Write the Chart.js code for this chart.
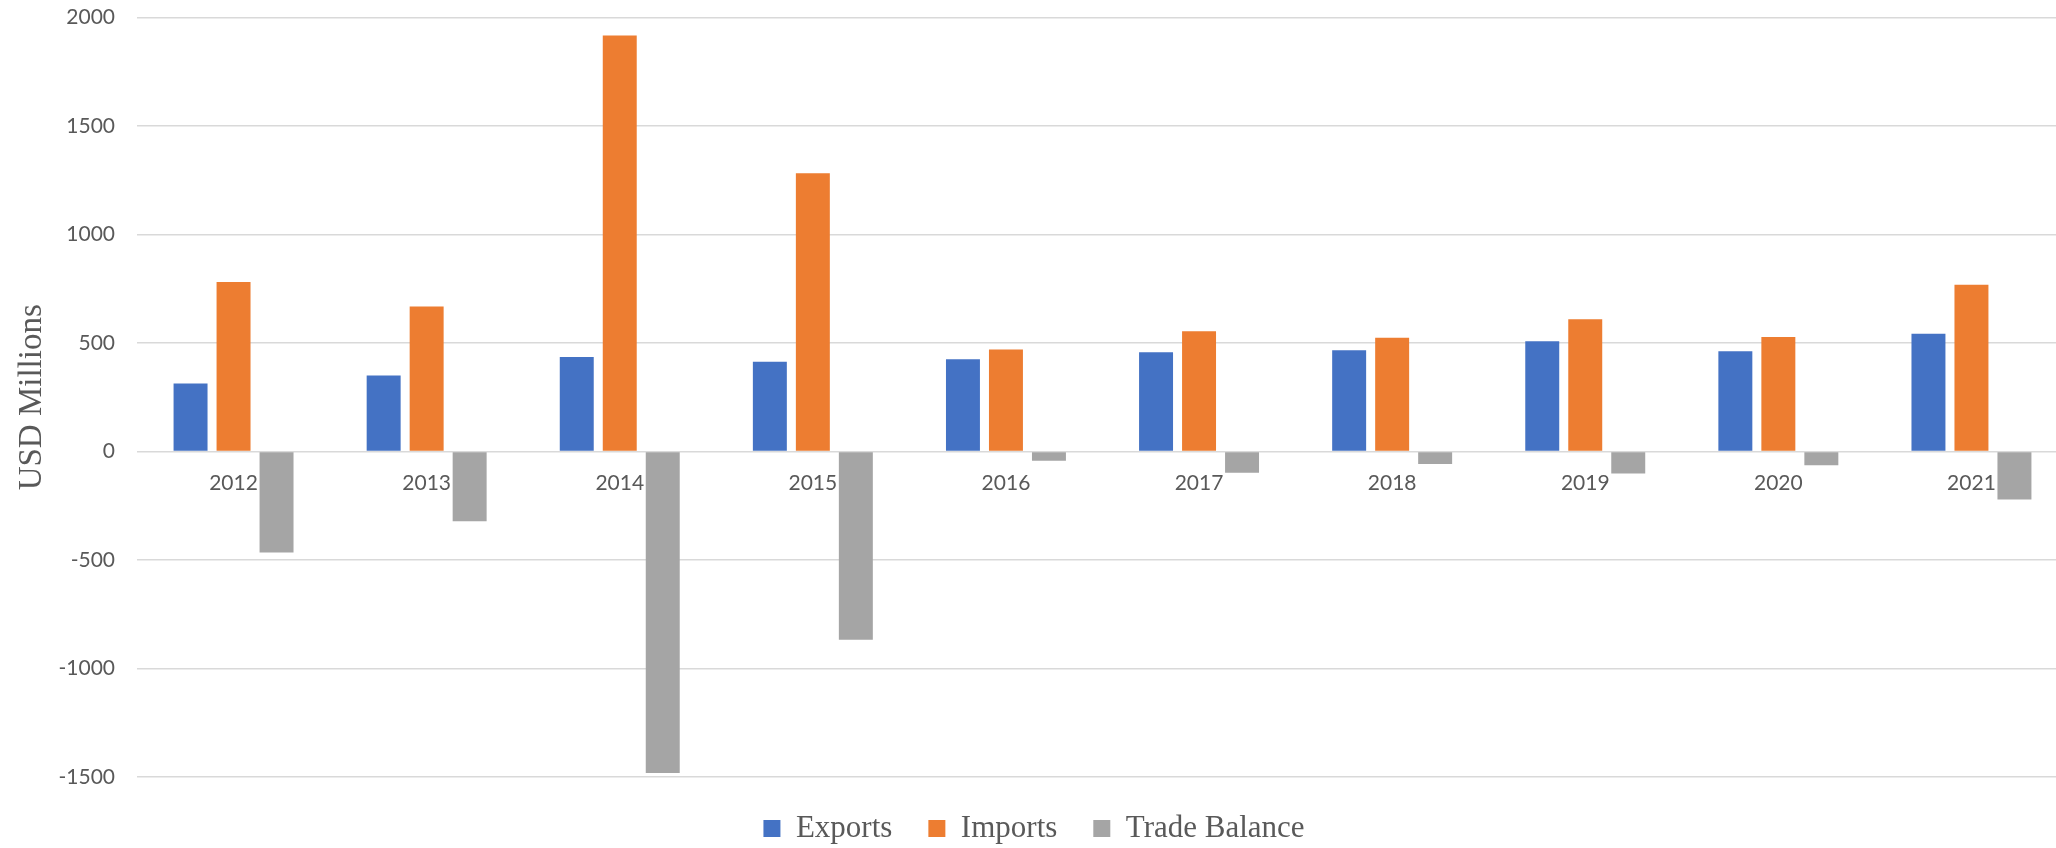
<!DOCTYPE html>
<html>
<head>
<meta charset="utf-8">
<script src="https://cdn.jsdelivr.net/npm/chart.js@4"></script>
<style>
  body { margin: 0; background: #fff; overflow: hidden; }
  .content { width: 2068px; height: 848px; }
</style>
</head>
<body>
<div class="content"><canvas class="myChart"></canvas></div>
<script>
// datos (USD millones)
const years = ['2012','2013','2014','2015','2016','2017','2018','2019','2020','2021']
const exportsUsd = [314, 350, 436, 414, 425, 458, 467, 508, 462, 543]
const importsUsd = [781, 668, 1918, 1283, 470, 554, 525, 610, 528, 769]
const tradeBalance = [-465, -321, -1481, -867, -43, -98, -57, -101, -63, -221]
const yTicks = [-1500, -1000, -500, 0, 500, 1000, 1500, 2000]

const gris = '#595959'
const ctx = document.querySelector('.myChart')

// ajuste de la altura de la leyenda para que el area del grafico baje un poco
const legendSpace = {
    id: 'legendSpace',
    beforeInit(chart) {
        const fit = chart.legend.fit
        chart.legend.fit = function () {
            fit.call(this)
            this.height -= 6
        }
    }
}

const myChart = new Chart(ctx, {
    type: 'bar',
    data: {
        labels: years,
        datasets: [
            { label: 'Exports', data: exportsUsd, backgroundColor: '#4472C4' },
            { label: 'Imports', data: importsUsd, backgroundColor: '#ED7D31' },
            { label: 'Trade Balance', data: tradeBalance, backgroundColor: '#A5A5A5' }
        ]
    },
    options: {
        responsive: true,
        maintainAspectRatio: false,
        animation: false,
        categoryPercentage: 0.668,
        barPercentage: 0.79,
        layout: { padding: 0 },
        plugins: {
            tooltip: { enabled: false },
            legend: {
                position: 'bottom',
                labels: {
                    color: gris,
                    font: { family: '"Liberation Serif", serif', size: 31 },
                    boxWidth: 17,
                    boxHeight: 17,
                    padding: 36
                }
            }
        },
        scales: {
            x: {
                position: { y: 0 },
                grid: { display: false, drawTicks: false },
                border: { display: false },
                ticks: { color: gris, font: { family: 'Lato', size: 21 }, padding: 19, maxRotation: 0 }
            },
            y: {
                min: -1500,
                max: 2000,
                afterBuildTicks: scale => { scale.ticks = yTicks.map(v => ({ value: v })) },
                afterFit: scale => { scale.width = 137 },
                grid: { color: '#D9D9D9', lineWidth: 1.5, drawTicks: true, tickLength: 17, tickColor: 'rgba(0,0,0,0)' },
                border: { display: false },
                ticks: { color: gris, font: { family: 'Lato', size: 21 }, padding: 5, callback: v => v },
                title: {
                    display: true,
                    text: 'USD Millions',
                    color: gris,
                    font: { family: '"Liberation Serif", serif', size: 33 },
                    padding: { top: 13, bottom: 0 }
                }
            }
        }
    },
    plugins: [legendSpace]
})
</script>
</body>
</html>
